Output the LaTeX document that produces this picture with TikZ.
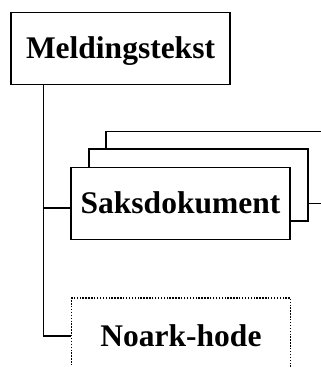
\documentclass[tikz,border=0pt]{standalone}
\usepackage{fontspec}
\setmainfont{Liberation Serif}
\begin{document}
\begin{tikzpicture}[x=1pt,y=-1pt,
  box/.style={draw,line width=1.6pt,fill=white,minimum width=219pt,minimum height=72pt,inner sep=0pt,
    font=\fontsize{31.5}{36}\selectfont\bfseries,text height=20.7pt,text depth=0pt},
  dotbox/.style={box,line width=1.7pt,dash pattern=on 1.4pt off 1.5pt,minimum height=76pt},
  conn/.style={line width=1.4pt}]
\useasboundingbox (0,0) rectangle (321,367);
\node[box] (M) at (120.5,48.5) {Meldingstekst};
\node[box,minimum width=220pt] (S3) at (216,167.5) {};
\node[box] (S2) at (198.5,185) {};
\node[box] (S) at (180.5,203.5) {Saksdokument};
\node[dotbox] (N) at (181,336) {Noark-hode};
\coordinate (top) at ([xshift=33.5pt]M.south west);
\draw[conn] (top) |- ([yshift=-4.5pt]S.west);
\draw[conn] (top) |- (N.west);
\end{tikzpicture}
\end{document}
